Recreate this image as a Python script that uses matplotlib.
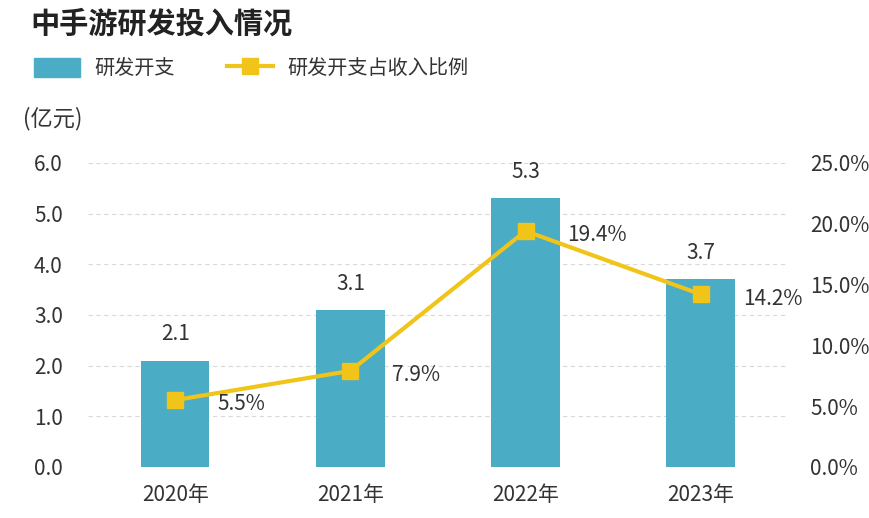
import matplotlib.pyplot as plt
from matplotlib.lines import Line2D
from matplotlib.patches import Patch

plt.rcParams['font.family'] = ['Noto Sans CJK SC', 'DejaVu Sans']
plt.rcParams['font.weight'] = 'light'

years = ['2020年', '2021年', '2022年', '2023年']
spend = [2.1, 3.1, 5.3, 3.7]
ratio = [5.5, 7.9, 19.4, 14.2]
left_ticks = [0, 1, 2, 3, 4, 5, 6]
right_ticks = [0, 5, 10, 15, 20, 25]

bar_color = '#4BACC6'
line_color = '#F0C419'
text_color = '#333333'

fig = plt.figure(figsize=(8.69, 5.18), dpi=100)
ax = fig.add_axes([0.101, 0.0985, 0.806, 0.587])
x = range(len(years))

ax.bar(x, spend, width=0.39, color=bar_color, zorder=2)
ax.set_xlim(-0.5, 3.5)
ax.set_ylim(0, 6)
ax.set_yticks(left_ticks)
ax.set_yticklabels(['%.1f' % v for v in left_ticks])
ax.set_xticks(list(x))
ax.set_xticklabels(years)
ax.grid(axis='y', color='#d9d9d9', linestyle=(0, (4, 3)), linewidth=0.8, zorder=0)
for s in ax.spines.values():
    s.set_visible(False)
ax.tick_params(length=0, labelsize=15, colors=text_color, pad=18)
ax.tick_params(axis='x', pad=12)

for i, v in enumerate(spend):
    ax.text(i, v + 0.3, '%.1f' % v, ha='center', va='bottom', fontsize=15, color=text_color)

ax2 = ax.twinx()
ax2.plot(x, ratio, color=line_color, linewidth=3, marker='s', markersize=11, zorder=3)
ax2.set_ylim(0, 25)
ax2.set_yticks(right_ticks)
ax2.set_yticklabels(['%.1f%%' % v for v in right_ticks])
for s in ax2.spines.values():
    s.set_visible(False)
ax2.tick_params(length=0, labelsize=15, colors=text_color, pad=16)

for i, v in enumerate(ratio):
    ax2.text(i + 0.24, v - 0.35, '%.1f%%' % v, ha='left', va='center', fontsize=15, color=text_color)

fig.text(0.035, 0.955, '中手游研发投入情况', fontsize=21, fontweight='bold', color='#222222', va='center')
fig.text(0.027, 0.772, '(亿元)', fontsize=16, color=text_color, va='center')

handles = [Patch(color=bar_color),
           Line2D([], [], color=line_color, linewidth=3, marker='s', markersize=11)]
fig.legend(handles, ['研发开支', '研发开支占收入比例'], loc='center left',
           bbox_to_anchor=(0.018, 0.868), ncol=2, frameon=False, fontsize=14.5,
           handlelength=2.3, handleheight=1.1, handletextpad=0.7,
           columnspacing=2.6, labelcolor=text_color)

fig.savefig('out.png', dpi=100)
